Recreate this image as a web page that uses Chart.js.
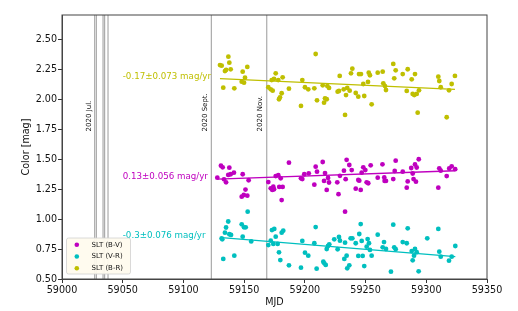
<!DOCTYPE html>
<html>
<head>
<meta charset="utf-8">
<script src="https://cdn.jsdelivr.net/npm/chart.js@4/dist/chart.umd.min.js"></script>
<style>
  html, body { margin: 0; padding: 0; background: #fff; }
  #wrap { width: 518px; height: 311px; }
</style>
</head>
<body>
<div id="wrap"><canvas id="colorChart"></canvas></div>
<script>
// series: [MJD, colour index]
const seriesNames = ["SLT (B-V)", "SLT (V-R)", "SLT (B-R)"];
const seriesColors = ["#bf00bf", "#00bfbf", "#bfbf00"];

const bvPoints = [
  [59127.9,1.344],[59130.9,1.444],[59132.3,1.431],[59133.4,1.331],[59135.1,1.306],[59137.8,1.428],
  [59136.9,1.367],[59138.9,1.373],[59141.6,1.386],[59148.8,1.373],[59151.1,1.245],[59153.7,1.323],
  [59148.0,1.186],[59149.7,1.200],[59152.6,1.194],[59169.9,1.308],[59171.9,1.256],[59173.2,1.242],
  [59174.6,1.248],[59174.0,1.269],[59176.0,1.358],[59178.1,1.365],[59180.1,1.339],[59178.9,1.267],
  [59181.7,1.267],[59180.9,1.158],[59186.9,1.469],[59196.8,1.339],[59197.9,1.333],[59199.5,1.373],
  [59203.2,1.381],[59207.8,1.286],[59208.9,1.436],[59210.0,1.394],[59214.7,1.475],[59215.8,1.317],
  [59216.6,1.383],[59218.0,1.242],[59219.1,1.342],[59219.9,1.304],[59226.7,1.306],[59227.7,1.207],
  [59228.9,1.360],[59232.2,1.403],[59234.4,1.493],[59236.6,1.450],[59233.6,1.332],[59238.6,1.408],
  [59233.1,1.061],[59241.9,1.253],[59244.0,1.325],[59244.8,1.319],[59246.0,1.242],[59246.8,1.386],
  [59248.1,1.431],[59249.8,1.408],[59250.9,1.306],[59252.2,1.298],[59254.2,1.447],[59260.0,1.344],
  [59263.9,1.456],[59265.4,1.346],[59265.7,1.317],[59266.8,1.317],[59272.8,1.333],[59274.8,1.486],
  [59274.0,1.400],[59280.6,1.394],[59283.9,1.261],[59284.7,1.313],[59287.6,1.425],[59288.8,1.379],
  [59289.5,1.333],[59290.7,1.454],[59291.5,1.311],[59293.8,1.498],[59292.1,1.429],[59309.9,1.261],
  [59310.7,1.422],[59311.9,1.403],[59316.8,1.358],[59318.9,1.421],[59320.9,1.439],[59323.8,1.415]
];

const vrPoints = [
  [59131.5,0.839],[59132.0,0.831],[59134.2,0.886],[59135.1,0.929],[59136.9,0.979],[59137.8,0.873],
  [59139.2,0.867],[59132.8,0.667],[59141.9,0.694],[59148.0,0.956],[59149.9,0.931],[59151.3,0.931],
  [59152.9,1.061],[59148.8,0.853],[59155.8,0.813],[59169.9,0.783],[59171.9,0.819],[59174.0,0.792],
  [59177.6,0.792],[59172.9,0.908],[59174.8,0.917],[59176.0,0.853],[59180.9,0.886],[59182.2,0.903],
  [59178.7,0.722],[59179.8,0.658],[59186.9,0.614],[59197.9,0.817],[59196.8,0.594],[59200.1,0.719],
  [59202.8,0.694],[59208.9,0.933],[59207.8,0.798],[59209.7,0.586],[59215.2,0.644],[59216.0,0.631],
  [59217.2,0.617],[59218.0,0.750],[59219.1,0.775],[59220.1,0.789],[59224.2,0.831],[59227.0,0.748],
  [59228.1,0.850],[59228.9,0.819],[59233.1,0.803],[59232.5,0.667],[59234.4,0.694],[59234.9,0.589],
  [59236.6,0.614],[59237.7,0.839],[59239.1,0.839],[59241.9,0.798],[59244.0,0.692],[59244.8,0.875],
  [59246.0,0.958],[59246.8,0.817],[59247.6,0.692],[59248.9,0.608],[59250.9,0.769],[59251.7,0.833],
  [59252.8,0.798],[59253.6,0.742],[59255.0,0.694],[59260.0,0.869],[59264.1,0.764],[59265.2,0.808],
  [59266.8,0.750],[59270.9,0.561],[59272.8,0.953],[59273.6,0.764],[59274.8,0.748],[59280.6,0.808],
  [59283.9,0.798],[59284.7,0.922],[59288.0,0.733],[59288.8,0.656],[59289.9,0.694],[59290.7,0.750],
  [59292.1,0.723],[59293.7,0.564],[59300.8,0.839],[59309.9,0.917],[59310.7,0.728],[59311.9,0.686],
  [59318.7,0.653],[59320.9,0.686],[59323.9,0.775]
];

const brPoints = [
  [59130.1,2.283],[59131.5,2.278],[59137.0,2.353],[59137.8,2.303],[59134.2,2.233],[59135.1,2.242],
  [59138.9,2.247],[59132.8,2.094],[59141.9,2.089],[59148.8,2.228],[59152.6,2.267],[59150.7,2.178],
  [59148.0,2.144],[59149.9,2.136],[59169.9,2.098],[59171.9,2.081],[59173.5,2.069],[59172.7,2.158],
  [59174.6,2.167],[59176.0,2.214],[59178.1,2.158],[59181.7,2.181],[59180.9,2.048],[59179.5,2.014],
  [59178.7,1.998],[59186.9,2.086],[59196.8,1.942],[59197.9,2.158],[59200.1,2.098],[59202.8,2.081],
  [59208.9,2.375],[59207.8,2.089],[59210.0,1.989],[59214.7,2.114],[59216.6,2.006],[59218.0,1.998],
  [59215.8,1.969],[59218.5,2.108],[59219.9,2.092],[59228.7,2.192],[59227.0,2.061],[59228.1,2.067],
  [59232.0,2.081],[59233.9,2.033],[59234.9,2.092],[59236.9,2.069],[59233.1,1.867],[59238.0,2.214],
  [59239.1,2.253],[59241.9,2.050],[59244.0,2.019],[59244.6,2.208],[59246.2,2.208],[59248.1,2.125],
  [59248.9,2.025],[59252.0,2.142],[59252.6,2.219],[59253.6,2.198],[59255.0,1.956],[59260.0,2.219],
  [59264.1,2.228],[59264.6,2.131],[59266.0,2.108],[59266.8,2.075],[59272.8,2.292],[59274.8,2.239],
  [59273.6,2.172],[59280.6,2.208],[59284.7,2.248],[59283.9,2.067],[59288.0,2.164],[59288.8,2.042],
  [59290.1,2.033],[59292.1,2.042],[59290.7,2.208],[59292.9,1.886],[59294.0,2.072],[59309.9,2.186],
  [59310.7,2.150],[59311.9,2.098],[59316.8,1.848],[59318.7,2.072],[59320.9,2.125],[59323.6,2.192]
];

// linear trend per series (mag/yr) and its value at fitRef
const fitSlope = [0.13, -0.3, -0.17];
const fitErr = [0.056, 0.076, 0.073];
const fitRef = 59200;
const fitValue = [1.358, 0.788, 2.137];
const slopeLabelMjd = 59050;

// observing-season markers
const eventMjd = [59026.9, 59028.3, 59033.8, 59035.1, 59037.9, 59123.0, 59168.6];
const eventLabels = ["2020 Jul.", "2020 Sept.", "2020 Nov."];
const eventLabelMjd = [59022.2, 59118.0, 59163.0];
const eventLabelMag = 1.73;

const xTicks = [59000, 59050, 59100, 59150, 59200, 59250, 59300, 59350];
const yTicks = [0.5, 0.75, 1.0, 1.25, 1.5, 1.75, 2.0, 2.25, 2.5];

const allPoints = [bvPoints, vrPoints, brPoints];
const fitAt = (i, mjd) => fitValue[i] + fitSlope[i] * (mjd - fitRef) / 365.25;

const datasets = [];
allPoints.forEach((pts, i) => {
    datasets.push({
        label: seriesNames[i],
        data: pts.map(p => ({ x: p[0], y: p[1] })),
        backgroundColor: seriesColors[i],
        borderWidth: 0,
        pointRadius: 2.4,
        showLine: false
    });
});
allPoints.forEach((pts, i) => {
    const xs = pts.map(p => p[0]);
    const x0 = Math.min(...xs), x1 = Math.max(...xs);
    datasets.push({
        label: "fit " + seriesNames[i],
        data: [{ x: x0, y: fitAt(i, x0) }, { x: x1, y: fitAt(i, x1) }],
        borderColor: seriesColors[i],
        borderWidth: 1.3,
        pointRadius: 0,
        showLine: true,
        fill: false
    });
});

const FONT = "DejaVu Sans";

const decorPlugin = {
    id: "decor",
    beforeDatasetsDraw(chart) {
        const { ctx, chartArea: a, scales: { x, y } } = chart;
        ctx.save();
        ctx.strokeStyle = "#ababab";
        ctx.lineWidth = 1.2;
        eventMjd.forEach(m => {
            const px = x.getPixelForValue(m);
            ctx.beginPath();
            ctx.moveTo(px, a.top);
            ctx.lineTo(px, a.bottom);
            ctx.stroke();
        });
        ctx.fillStyle = "#111";
        ctx.font = "7px '" + FONT + "'";
        ctx.textBaseline = "middle";
        ctx.textAlign = "left";
        eventLabels.forEach((t, i) => {
            ctx.save();
            ctx.translate(x.getPixelForValue(eventLabelMjd[i]), y.getPixelForValue(eventLabelMag));
            ctx.rotate(-Math.PI / 2);
            ctx.fillText(t, 0, 0);
            ctx.restore();
        });
        ctx.restore();
    },
    afterDatasetsDraw(chart) {
        const { ctx, chartArea: a, scales: { x, y } } = chart;
        ctx.save();
        // slope annotations
        ctx.font = "8.7px '" + FONT + "'";
        ctx.textAlign = "left";
        ctx.textBaseline = "alphabetic";
        allPoints.forEach((pts, i) => {
            const x0 = Math.min(...pts.map(p => p[0]));
            ctx.fillStyle = seriesColors[i];
            ctx.fillText(fitSlope[i] + "\u00b1" + fitErr[i] + " mag/yr",
                x.getPixelForValue(slopeLabelMjd), y.getPixelForValue(fitAt(i, x0)));
        });
        // frame
        ctx.strokeStyle = "#444";
        ctx.lineWidth = 1;
        ctx.strokeRect(a.left, a.top, a.right - a.left, a.bottom - a.top);
        // legend, lower left
        const bx = a.left + 4.5, bw = 64, bh = 36, by = a.bottom - 5 - bh;
        ctx.beginPath();
        ctx.roundRect(bx, by, bw, bh, 2);
        ctx.fillStyle = "rgba(255,251,238,0.95)";
        ctx.fill();
        ctx.strokeStyle = "#d0d0d0";
        ctx.lineWidth = 0.8;
        ctx.stroke();
        ctx.font = "7px '" + FONT + "'";
        ctx.textBaseline = "middle";
        seriesNames.forEach((n, i) => {
            const ry = by + 6.8 + i * 11.7;
            ctx.fillStyle = seriesColors[i];
            ctx.beginPath();
            ctx.arc(bx + 10.3, ry, 2.3, 0, Math.PI * 2);
            ctx.fill();
            ctx.fillStyle = "#111";
            ctx.fillText(n, bx + 25, ry);
        });
        ctx.restore();
    }
};

new Chart(document.getElementById("colorChart"), {
    type: "scatter",
    data: { datasets },
    options: {
        responsive: true,
        maintainAspectRatio: false,
        animation: false,
        layout: { padding: { top: 15, right: 31, left: 0, bottom: 0 } },
        plugins: { legend: { display: false }, tooltip: { enabled: false } },
        scales: {
            x: {
                type: "linear",
                min: 59000,
                max: 59350,
                afterFit: s => { s.height = 32; },
                afterBuildTicks: s => { s.ticks = xTicks.map(v => ({ value: v })); },
                grid: { drawOnChartArea: false, drawTicks: true, tickLength: 4, color: "#333" },
                border: { color: "#444" },
                ticks: {
                    color: "#111",
                    padding: 2,
                    maxRotation: 0,
                    font: { family: FONT, size: 9.6 },
                    callback: v => String(v)
                },
                title: {
                    display: true,
                    text: "MJD",
                    color: "#111",
                    font: { family: FONT, size: 9.6 },
                    padding: { top: 0, bottom: 3 }
                }
            },
            y: {
                min: 0.5,
                max: 2.7,
                afterFit: s => { s.width = 62; },
                afterBuildTicks: s => { s.ticks = yTicks.map(v => ({ value: v })); },
                grid: { drawOnChartArea: false, drawTicks: true, tickLength: 4, color: "#333" },
                border: { color: "#444" },
                ticks: {
                    color: "#111",
                    padding: 1,
                    font: { family: FONT, size: 9.6 },
                    callback: v => v.toFixed(2)
                },
                title: {
                    display: true,
                    text: "Color [mag]",
                    color: "#111",
                    font: { family: FONT, size: 9.6 },
                    padding: { top: 21, bottom: 0 }
                }
            }
        }
    },
    plugins: [decorPlugin]
});
</script>
</body>
</html>
